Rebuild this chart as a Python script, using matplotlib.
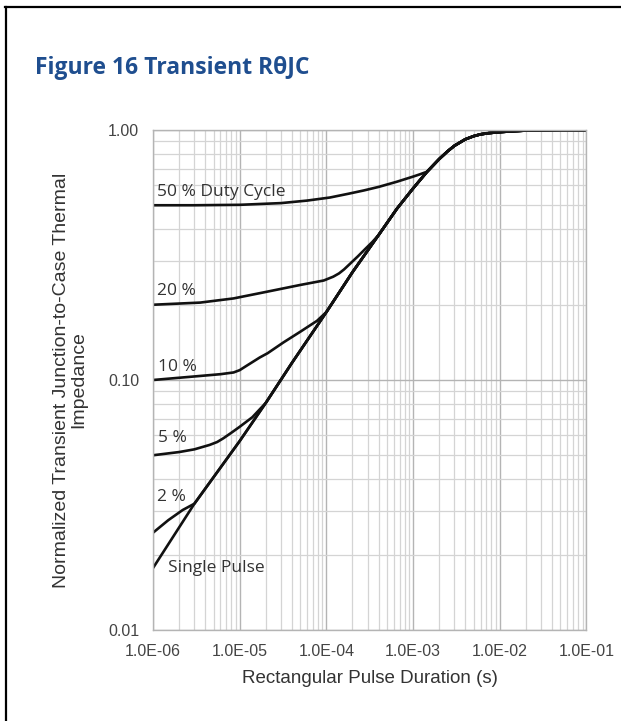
from matplotlib import pyplot as plt
from matplotlib.lines import Line2D
from matplotlib.ticker import LogLocator, FixedLocator, NullFormatter
import numpy as np

# single pulse response, shared by all duty cycles once they join it
t_single = [1e-6, 3e-6, 1e-5, 2e-5, 4e-5, 1e-4, 2e-4, 4e-4, 6.5e-4, 1e-3,
            1.45e-3, 2e-3, 2.5e-3, 3e-3, 4e-3, 5e-3, 6e-3, 7.5e-3, 1e-2,
            1.5e-2, 2e-2, 3e-2, 5e-2, 1e-1]
z_single = [0.0177, 0.032, 0.057, 0.081, 0.117, 0.187, 0.27, 0.38, 0.484, 0.584,
            0.681, 0.765, 0.822, 0.865, 0.918, 0.945, 0.961, 0.972, 0.981,
            0.99, 0.995, 0.998, 1.0, 1.0]

# duty cycle curves up to the point where they meet the single pulse curve
t_50 = [1e-6, 3e-6, 1e-5, 3e-5, 6e-5, 1.1e-4, 1.8e-4, 2.7e-4, 4e-4, 6.5e-4,
        1e-3, 1.2e-3]
z_50 = [0.50, 0.50, 0.502, 0.51, 0.522, 0.537, 0.556, 0.573, 0.592, 0.621,
        0.651, 0.665]

t_20 = [1e-6, 3.5e-6, 8.5e-6, 2e-5, 5e-5, 9.3e-5, 1.2e-4, 1.4e-4, 1.6e-4,
        1.9e-4, 2.3e-4, 2.8e-4, 3.4e-4]
z_20 = [0.200, 0.204, 0.212, 0.225, 0.240, 0.250, 0.259, 0.267, 0.277,
        0.293, 0.312, 0.334, 0.357]

t_10 = [1e-6, 3.5e-6, 6e-6, 8.5e-6, 1e-5, 1.2e-5, 1.45e-5, 1.7e-5,
        2.1e-5, 3.2e-5, 5e-5, 7.8e-5]
z_10 = [0.100, 0.1038, 0.1055, 0.1072, 0.1095, 0.114, 0.1188, 0.123,
        0.128, 0.1414, 0.156, 0.1725]

t_5 = [1e-6, 2e-6, 3e-6, 4.5e-6, 5.5e-6, 6.5e-6, 8e-6, 1e-5, 1.4e-5]
z_5 = [0.050, 0.0515, 0.0528, 0.055, 0.0565, 0.0585, 0.0615, 0.065, 0.071]

t_2 = [1e-6, 1.5e-6, 2.2e-6]
z_2 = [0.0245, 0.0275, 0.0302]

labels = ['50 % Duty Cycle', '20 %', '10 %', '5 %', '2 %', 'Single Pulse']
label_x = [1.11e-6, 1.11e-6, 1.13e-6, 1.13e-6, 1.11e-6, 1.49e-6]
label_y = [0.545, 0.219, 0.1089, 0.0563, 0.0328, 0.0171]

x_ticks = [1e-6, 1e-5, 1e-4, 1e-3, 1e-2, 1e-1]
x_ticklabels = ['1.0E-06', '1.0E-05', '1.0E-04', '1.0E-03', '1.0E-02', '1.0E-01']
y_ticks = [0.01, 0.1, 1.0]
y_ticklabels = ['0.01', '0.10', '1.00']


def join_tail(t, z):
    # continue a duty cycle curve along the single pulse curve
    t = list(t)
    z = list(z)
    for ts, zs in zip(t_single, z_single):
        if ts > t[-1]:
            t.append(ts)
            z.append(zs)
    return t, z


fig = plt.figure(figsize=(6.21, 7.21), dpi=100)
ax = fig.add_axes([0.2464, 0.1262, 0.698, 0.6935])
ax.set_xscale('log')
ax.set_yscale('log')
ax.set_xlim(1e-6, 1e-1)
ax.set_ylim(0.01, 1.0)

ax.xaxis.set_minor_locator(LogLocator(base=10, subs=np.arange(2, 10)))
ax.yaxis.set_minor_locator(LogLocator(base=10, subs=np.arange(2, 10)))
ax.xaxis.set_minor_formatter(NullFormatter())
ax.yaxis.set_minor_formatter(NullFormatter())
ax.xaxis.set_major_locator(FixedLocator(x_ticks))
ax.yaxis.set_major_locator(FixedLocator(y_ticks))
ax.set_xticklabels(x_ticklabels)
ax.set_yticklabels(y_ticklabels)

ax.grid(which='major', color='#b4b4b4', linewidth=1.0)
ax.grid(which='minor', color='#d4d4d4', linewidth=0.9)
ax.set_axisbelow(True)
for s in ax.spines.values():
    s.set_color('#b4b4b4')
    s.set_linewidth(1.0)

ax.tick_params(which='both', length=0)
ax.tick_params(axis='x', pad=10, labelsize=11.5, labelcolor='#444444')
ax.tick_params(axis='y', pad=10, labelsize=11.5, labelcolor='#444444')
for lab in ax.get_xticklabels() + ax.get_yticklabels():
    lab.set_family('Liberation Sans')

for t, z in [(t_50, z_50), (t_20, z_20), (t_10, z_10), (t_5, z_5), (t_2, z_2)]:
    tt, zz = join_tail(t, z)
    ax.plot(tt, zz, color='#111111', linewidth=1.9, solid_joinstyle='round')
ax.plot(t_single, z_single, color='#111111', linewidth=1.9, solid_joinstyle='round')

for txt, lx, ly in zip(labels, label_x, label_y):
    ax.text(lx, ly, txt, fontsize=12.5, family='Open Sans', color='#333333',
            ha='left', va='baseline')

ax.set_xlabel('Rectangular Pulse Duration (s)', family='Liberation Sans',
              fontsize=13.5, color='#333333', labelpad=8)
ax.set_ylabel('Normalized Transient Junction-to-Case Thermal\nImpedance',
              family='Liberation Sans', fontsize=14, color='#333333',
              linespacing=1.0)
ax.yaxis.set_label_coords(-0.152, 0.5)

fig.text(0.056, 0.905, 'Figure 16 Transient R\u03b8JC', fontsize=16.5,
         fontweight='bold', family='Open Sans', color='#1f4e8f',
         ha='left', va='center')

# open frame along the top and left edges
fig.add_artist(Line2D([5 / 621, 1.0], [1 - 7 / 721, 1 - 7 / 721],
                      transform=fig.transFigure, color='black', linewidth=1.6))
fig.add_artist(Line2D([6 / 621, 6 / 621], [0.0, 1 - 7 / 721],
                      transform=fig.transFigure, color='black', linewidth=1.6))

fig.savefig('out.png', dpi=100)
